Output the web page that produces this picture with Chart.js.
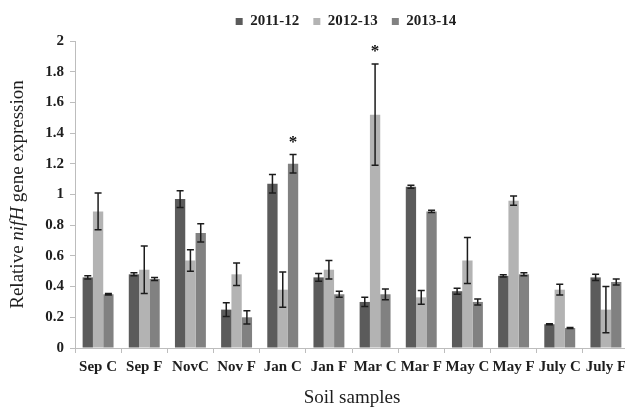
<!DOCTYPE html>
<html>
<head>
<meta charset="utf-8">
<script src="https://cdn.jsdelivr.net/npm/chart.js@4/dist/chart.umd.min.js"></script>
<style>
  html, body { margin: 0; padding: 0; background: #fff; overflow: hidden; }
  #wrap { width: 692px; height: 415px; }
</style>
</head>
<body>
<div id="wrap"><canvas id="chart"></canvas></div>
<script>
// soil samples
const categories = ["Sep C", "Sep F", "NovC", "Nov F", "Jan C", "Jan F", "Mar C", "Mar F", "May C", "May F", "July C", "July F"];
const seriesNames = ["2011-12", "2012-13", "2013-14"];

// relative nifH expression
const values2011 = [0.46, 0.48, 0.97, 0.25, 1.07, 0.46, 0.30, 1.05, 0.37, 0.47, 0.155, 0.46];
const values2012 = [0.89, 0.51, 0.57, 0.48, 0.38, 0.51, 1.52, 0.33, 0.57, 0.96, 0.38, 0.25];
const values2013 = [0.35, 0.45, 0.75, 0.20, 1.20, 0.35, 0.35, 0.89, 0.30, 0.48, 0.13, 0.43];

// error bars (+/-)
const err2011 = [0.01, 0.01, 0.055, 0.045, 0.06, 0.025, 0.03, 0.01, 0.02, 0.008, 0.003, 0.02];
const err2012 = [0.12, 0.155, 0.07, 0.073, 0.115, 0.06, 0.33, 0.045, 0.15, 0.03, 0.035, 0.15];
const err2013 = [0.005, 0.01, 0.06, 0.043, 0.06, 0.02, 0.035, 0.008, 0.02, 0.01, 0.003, 0.02];

// significant differences: [series index, category index]
const asterisks = [[2, 4], [1, 6]];

const yTicks = [0, 0.2, 0.4, 0.6, 0.8, 1, 1.2, 1.4, 1.6, 1.8, 2];

const colors = ["#5b5b5b", "#b3b3b3", "#818181"];
const errors = [err2011, err2012, err2013];

Chart.defaults.font.family = "'Liberation Serif', 'Times New Roman', serif";
Chart.defaults.color = "#1e1e1e";

const errorBarPlugin = {
    id: "errorBars",
    afterDatasetsDraw(chart) {
        const ctx = chart.ctx;
        const y = chart.scales.y;
        ctx.save();
        ctx.strokeStyle = "#1c1c1c";
        ctx.lineWidth = 1.5;
        chart.data.datasets.forEach((ds, di) => {
            const meta = chart.getDatasetMeta(di);
            meta.data.forEach((bar, i) => {
                const v = ds.data[i];
                const e = errors[di][i];
                const top = y.getPixelForValue(v + e);
                const bot = y.getPixelForValue(v - e);
                ctx.beginPath();
                ctx.moveTo(bar.x, top);
                ctx.lineTo(bar.x, bot);
                ctx.moveTo(bar.x - 3.5, top);
                ctx.lineTo(bar.x + 3.5, top);
                ctx.moveTo(bar.x - 3.5, bot);
                ctx.lineTo(bar.x + 3.5, bot);
                ctx.stroke();
            });
        });
        // asterisks
        ctx.fillStyle = "#111";
        ctx.font = "bold 17px 'Liberation Serif', serif";
        ctx.textAlign = "center";
        ctx.textBaseline = "middle";
        asterisks.forEach(([di, i]) => {
            const bar = chart.getDatasetMeta(di).data[i];
            const v = chart.data.datasets[di].data[i] + errors[di][i];
            ctx.fillText("*", bar.x, y.getPixelForValue(v) - 12);
        });
        ctx.restore();
    }
};

// y title with italic gene name
const yTitlePlugin = {
    id: "yTitle",
    afterDraw(chart) {
        const ctx = chart.ctx;
        const area = chart.chartArea;
        const parts = [["Relative ", "normal"], ["nifH", "italic"], [" gene expression", "normal"]];
        ctx.save();
        ctx.fillStyle = "#1e1e1e";
        ctx.textBaseline = "middle";
        let total = 0;
        parts.forEach(([t, s]) => {
            ctx.font = s + " 19px 'Liberation Serif', serif";
            total += ctx.measureText(t).width;
        });
        ctx.translate(18, (area.top + area.bottom) / 2);
        ctx.rotate(-Math.PI / 2);
        let x = -total / 2;
        parts.forEach(([t, s]) => {
            ctx.font = s + " 19px 'Liberation Serif', serif";
            ctx.fillText(t, x, 0);
            x += ctx.measureText(t).width;
        });
        ctx.restore();
    }
};

// a little more room under the legend
const legendGapPlugin = {
    id: "legendGap",
    afterInit(chart) {
        const fit = chart.legend.fit;
        chart.legend.fit = function() {
            fit.call(this);
            this.height += 2;
        };
    }
};

new Chart(document.getElementById("chart"), {
    type: "bar",
    data: {
        labels: categories,
        datasets: [
            { label: seriesNames[0], data: values2011, backgroundColor: colors[0] },
            { label: seriesNames[1], data: values2012, backgroundColor: colors[1] },
            { label: seriesNames[2], data: values2013, backgroundColor: colors[2] }
        ]
    },
    options: {
        responsive: true,
        maintainAspectRatio: false,
        animation: false,
        datasets: {
            bar: { categoryPercentage: 0.67, barPercentage: 1.0 }
        },
        layout: { padding: { top: 0, left: 0, right: 0, bottom: 0 } },
        plugins: {
            legend: {
                position: "top",
                labels: {
                    boxWidth: 7,
                    boxHeight: 7,
                    padding: 14,
                    color: "#1e1e1e",
                    font: { size: 15, weight: "bold" }
                }
            },
            tooltip: { enabled: false }
        },
        scales: {
            x: {
                grid: { drawOnChartArea: false, tickLength: 5, color: "#bdbdbd" },
                border: { color: "#bdbdbd" },
                ticks: { padding: 5, maxRotation: 0, autoSkip: false, font: { size: 15, weight: "bold" } },
                title: {
                    display: true,
                    text: "Soil samples",
                    font: { size: 19 },
                    padding: { top: 0, bottom: 6 }
                },
                afterFit(scale) { scale.height = 67; }
            },
            y: {
                min: 0,
                max: 2,
                afterBuildTicks(scale) { scale.ticks = yTicks.map(v => ({ value: v })); },
                grid: { drawOnChartArea: false, tickLength: 5, color: "#bdbdbd" },
                border: { color: "#bdbdbd" },
                ticks: {
                    padding: 6,
                    font: { size: 15, weight: "bold" },
                    callback: (v) => String(Number(v.toFixed(1)))
                },
                afterFit(scale) { scale.width = 75; }
            },
            yRight: {
                position: "right",
                display: true,
                grid: { display: false },
                border: { display: false },
                ticks: { display: false },
                afterFit(scale) { scale.width = 63; }
            }
        }
    },
    plugins: [errorBarPlugin, yTitlePlugin, legendGapPlugin]
});
</script>
</body>
</html>
